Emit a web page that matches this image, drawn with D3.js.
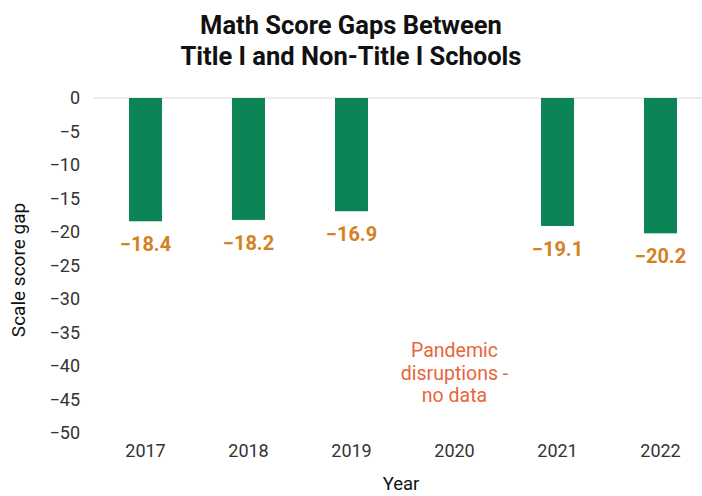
<!DOCTYPE html>
<html>
<head>
<meta charset="utf-8">
<script src="https://cdn.jsdelivr.net/npm/d3@7"></script>
<style>
  html, body { margin: 0; padding: 0; background: #fff; }
  svg { display: block; }
</style>
</head>
<body>
<svg id="chart" width="702" height="496"></svg>
<script>
// Math scale score gaps (Title I minus non-Title I), by year
const years = ["2017", "2018", "2019", "2020", "2021", "2022"];
const gaps = [-18.4, -18.2, -16.9, null, -19.1, -20.2];
const yTicks = [0, -5, -10, -15, -20, -25, -30, -35, -40, -45, -50];
const titleLines = ["Math Score Gaps Between", "Title I and Non-Title I Schools"];
const noteLines = ["Pandemic", "disruptions -", "no data"];

const svg = d3.select("#chart");

const x = d3.scaleBand().domain(years).range([94, 712]).paddingInner(0.68).paddingOuter(0.34);
const y = d3.scaleLinear().domain([-50, 0]).range([433, 98]);

const green = "#0b8456";
const labelOrange = "#d4821f";
const noteOrange = "#e8663a";
const textFont = "Roboto, 'Liberation Sans', sans-serif";

// Title
svg.append("g").selectAll("text").data(titleLines).join("text")
  .attr("x", 351).attr("y", (d, i) => 34 + i * 31)
  .attr("text-anchor", "middle")
  .attr("font-family", textFont).attr("font-weight", 700)
  .attr("font-size", 25.5).attr("fill", "#111")
  .text(d => d);

// Zero baseline
svg.append("line")
  .attr("x1", 94).attr("x2", 702)
  .attr("y1", y(0)).attr("y2", y(0))
  .attr("stroke", "#d9d9d9").attr("stroke-width", 1.2);

// Y axis (labels only)
const yAxis = d3.axisLeft(y).tickValues(yTicks).tickSize(0).tickPadding(0).tickFormat(d3.format("d"));
const gy = svg.append("g").attr("transform", "translate(80,0)").call(yAxis);
gy.select(".domain").remove();
gy.selectAll("text")
  .attr("font-family", textFont).attr("font-size", 18).attr("fill", "#333");

// X axis (labels only)
const xAxis = d3.axisBottom(x).tickSize(0).tickPadding(0);
const gx = svg.append("g").attr("transform", "translate(0,444)").call(xAxis);
gx.select(".domain").remove();
gx.selectAll("text")
  .attr("font-family", textFont).attr("font-size", 18).attr("fill", "#333");

// Bars
const data = years.map((yr, i) => ({ year: yr, value: gaps[i] })).filter(d => d.value !== null);
svg.append("g").selectAll("rect").data(data).join("rect")
  .attr("x", d => x(d.year))
  .attr("width", x.bandwidth())
  .attr("y", y(0))
  .attr("height", d => y(d.value) - y(0))
  .attr("fill", green);

// Value labels
svg.append("g").selectAll("text").data(data).join("text")
  .attr("x", d => x(d.year) + x.bandwidth() / 2)
  .attr("y", d => y(d.value) + 30)
  .attr("text-anchor", "middle")
  .attr("font-family", textFont).attr("font-weight", 700)
  .attr("font-size", 20).attr("fill", labelOrange)
  .text(d => "\u2212" + Math.abs(d.value).toFixed(1));

// Note in the empty 2020 slot
svg.append("g").selectAll("text").data(noteLines).join("text")
  .attr("x", x("2020") + x.bandwidth() / 2)
  .attr("y", (d, i) => 357 + i * 22.5)
  .attr("text-anchor", "middle")
  .attr("font-family", textFont).attr("font-size", 19.5).attr("fill", noteOrange)
  .text(d => d);

// Axis titles
svg.append("text")
  .attr("x", 401).attr("y", 490)
  .attr("text-anchor", "middle")
  .attr("font-family", textFont).attr("font-size", 18.5).attr("fill", "#111")
  .text("Year");

svg.append("text")
  .attr("transform", "translate(25,270) rotate(-90)")
  .attr("text-anchor", "middle")
  .attr("font-family", textFont).attr("font-size", 19).attr("fill", "#111")
  .text("Scale score gap");
</script>
</body>
</html>
